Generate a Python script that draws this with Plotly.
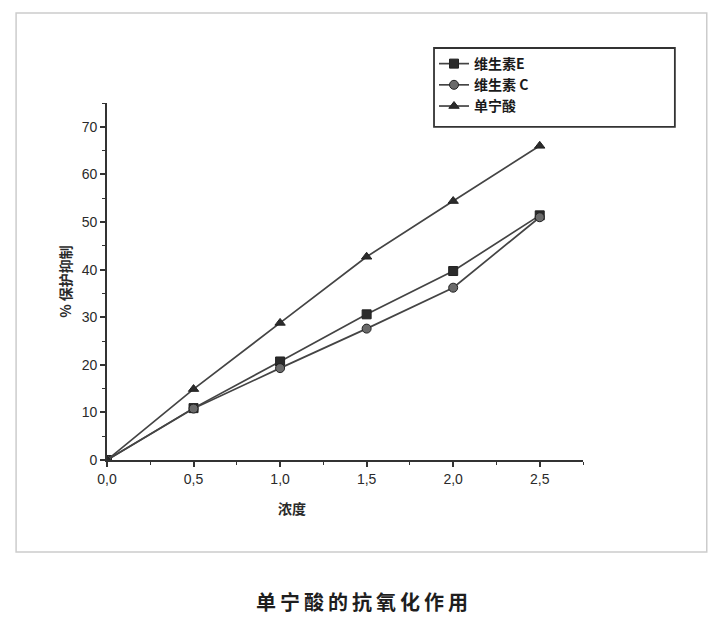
import plotly.graph_objects as go

# 数据
concentration = [0.0, 0.5, 1.0, 1.5, 2.0, 2.5]
vitamin_e = [0, 10.9, 20.7, 30.6, 39.7, 51.4]
vitamin_c = [0, 10.8, 19.3, 27.6, 36.2, 51.0]
tannic_acid = [0, 14.9, 28.8, 42.7, 54.4, 66.0]

names = ['维生素E', '维生素 C', '单宁酸']
symbols = ['square', 'circle', 'triangle-up']
fills = ['#2b2b2b', '#6a6a6a', '#2b2b2b']
caption = '单宁酸的抗氧化作用'

fig = go.Figure()
for name, ys, sym, fill in zip(names, [vitamin_e, vitamin_c, tannic_acid], symbols, fills):
    fig.add_trace(go.Scatter(
        x=concentration, y=ys, name='<b>' + name + '</b>', mode='lines+markers',
        line=dict(color='#444444', width=1.7),
        marker=dict(symbol=sym, size=9, color=fill,
                    line=dict(color='#222222', width=1)),
    ))

axis_font = dict(family='Liberation Sans, Arial', size=14, color='#2a2a2a')

fig.update_xaxes(
    range=[0, 2.75], tickvals=[0, 0.5, 1.0, 1.5, 2.0, 2.5], tickformat='.1f',
    showline=True, linecolor='#333333', linewidth=1.6, showgrid=False, zeroline=False,
    ticks='outside', ticklen=5, tickwidth=1.6, tickcolor='#333333',
    minor=dict(dtick=0.25, ticks='outside', ticklen=3, tickwidth=1.3, tickcolor='#333333'),
    tickfont=axis_font,
)
fig.update_yaxes(
    range=[0, 75], tickvals=[0, 10, 20, 30, 40, 50, 60, 70],
    showline=True, linecolor='#333333', linewidth=1.6, showgrid=False, zeroline=False,
    ticks='outside', ticklen=5, tickwidth=1.6, tickcolor='#333333',
    minor=dict(dtick=5, ticks='outside', ticklen=3, tickwidth=1.3, tickcolor='#333333'),
    tickfont=axis_font,
    title=dict(text='<b>% 保护抑制</b>', standoff=7,
               font=dict(family='Noto Sans CJK SC', size=14, color='#2a2a2a')),
)

# 外框
fig.add_shape(type='rect', xref='paper', yref='paper',
              x0=-0.191, x1=1.26, y0=-0.258, y1=1.252,
              line=dict(color='#cccccc', width=1.5))

# 图例框
fig.add_shape(type='rect', xref='paper', yref='paper',
              x0=0.687, x1=1.193, y0=0.933, y1=1.154,
              line=dict(color='#333333', width=1.8))

# x轴标题
fig.add_annotation(text='<b>浓度</b>', xref='paper', yref='paper', x=0.389, y=-0.135,
                   showarrow=False, xanchor='center', yanchor='middle',
                   font=dict(family='Noto Sans CJK SC', size=14, color='#2a2a2a'))

# 图题 (字间加细空格)
fig.add_annotation(text='<b>' + '\u2009'.join(caption) + '</b>', xref='paper', yref='paper',
                   x=0.536, y=-0.395, showarrow=False, xanchor='center', yanchor='middle',
                   font=dict(family='Noto Sans CJK SC', size=20, color='#1e1e1e'))

fig.update_layout(
    width=718, height=628,
    margin=dict(l=99, r=143, t=95, b=176),
    paper_bgcolor='white', plot_bgcolor='white',
    separators=',.',
    showlegend=True,
    legend=dict(x=0.687, y=1.154, xanchor='left', yanchor='top',
                borderwidth=0, bgcolor='rgba(0,0,0,0)', tracegroupgap=0,
                font=dict(family='Noto Sans CJK SC', size=14, color='#1a1a1a')),
)

fig.write_html('out.html')
